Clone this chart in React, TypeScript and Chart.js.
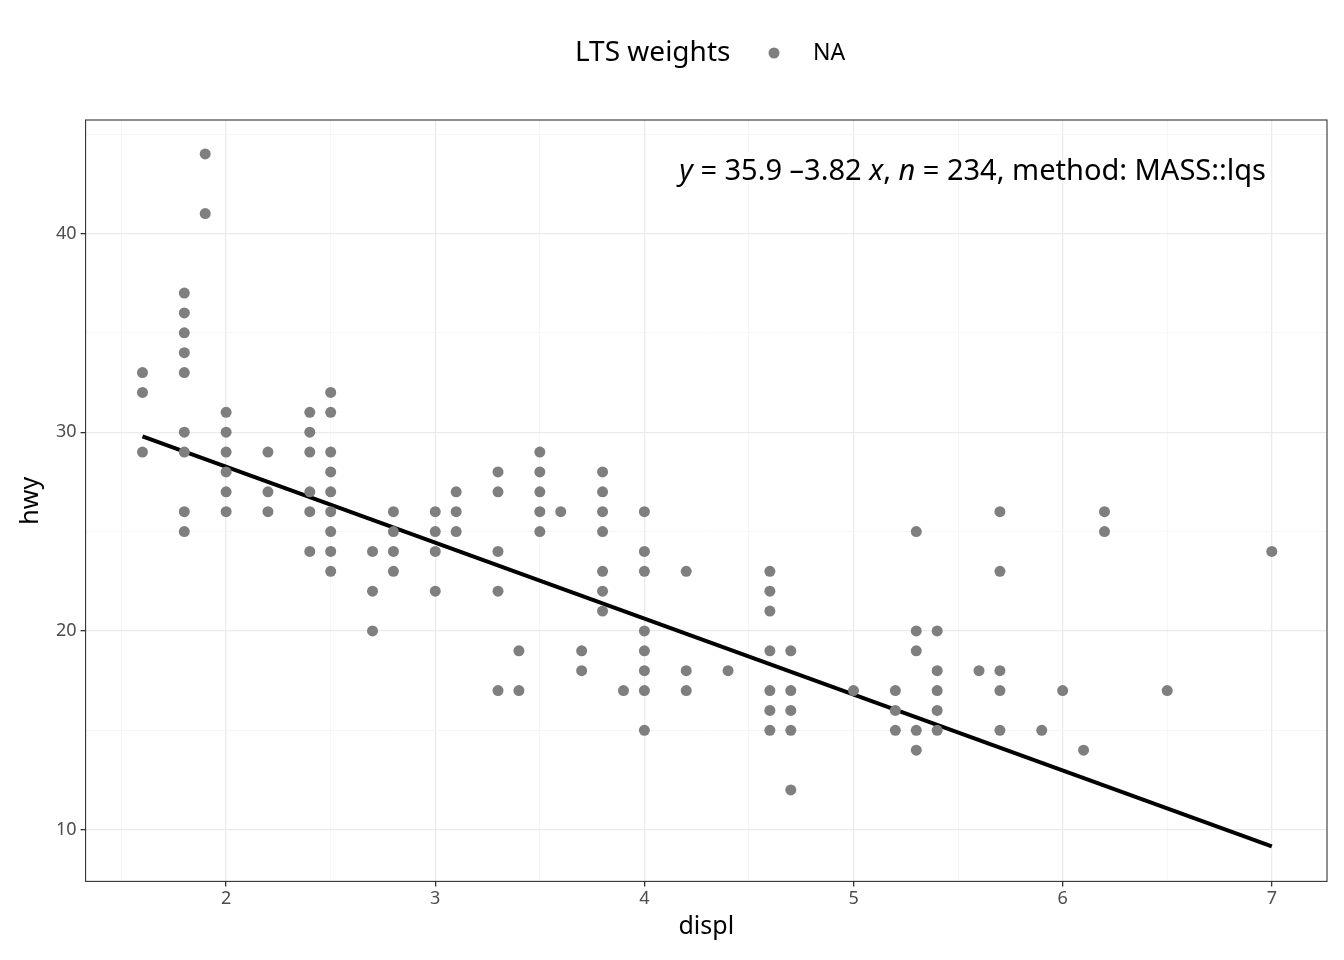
import { useEffect, useRef } from "react";
import { Chart, registerables } from "chart.js";
Chart.register(...registerables);

const displCols: number[] = [1.6,1.8,1.9,2.0,2.2,2.4,2.5,2.7,2.8,3.0,3.1,3.3,3.4,3.5,3.6,3.7,3.8,3.9,4.0,4.2,4.4,4.6,4.7,5.0,5.2,5.3,5.4,5.6,5.7,5.9,6.0,6.1,6.2,6.5,7.0];
const hwyCols: number[][] = [
  [33,32,29],[37,36,35,34,33,30,29,26,25],[44,41],[31,30,29,28,27,26],[29,27,26],
  [31,30,29,27,26,24],[32,31,29,28,27,26,25,24,23],[24,22,20],[26,25,24,23],[26,25,24,22],
  [27,26,25],[28,27,24,22,17],[19,17],[29,28,27,26,25],[26],[19,18],[28,27,26,25,23,22,21],
  [17],[26,24,23,20,19,18,17,15],[23,18,17],[18],[23,22,21,19,17,16,15],[19,17,16,15,12],
  [17],[17,16,15],[25,20,19,15,14],[20,18,17,16,15],[18],[26,23,18,17,15],[15],[17],[14],
  [26,25],[17],[24],
];
const intercept = 35.9;
const slope = -3.82;
const xTicks = [1.5,2,2.5,3,3.5,4,4.5,5,5.5,6,6.5,7];
const yTicks = [10,15,20,25,30,35,40,45];

export default function App() {
  const ref = useRef<HTMLCanvasElement>(null);
  useEffect(() => {
    document.body.style.margin = "0";
    const pts: { x: number; y: number }[] = [];
    displCols.forEach((x, i) => hwyCols[i].forEach((y) => pts.push({ x, y })));
    const line = [1.6, 7].map((x) => ({ x, y: intercept + slope * x }));
    const font = "'Noto Sans', sans-serif";
    const overlay = {
      id: "overlay",
      afterDraw(c: any) {
        const ctx = c.ctx;
        const a = c.chartArea;
        ctx.save();
        ctx.strokeStyle = "#333333";
        ctx.lineWidth = 1.1;
        ctx.strokeRect(a.left, a.top, a.right - a.left, a.bottom - a.top);
        ctx.fillStyle = "#000";
        ctx.textBaseline = "middle";
        ctx.font = `28px ${font}`;
        ctx.fillText("LTS weights", 575, 53);
        ctx.fillStyle = "#7f7f7f";
        ctx.beginPath(); ctx.arc(774, 53, 5.5, 0, Math.PI * 2); ctx.fill();
        ctx.fillStyle = "#000";
        ctx.font = `23px ${font}`;
        ctx.fillText("NA", 813, 53);
        const segs: [string, boolean][] = [["y", true], [" = 35.9 –3.82 ", false], ["x", true], [", ", false], ["n", true], [" = 234, method: MASS::lqs", false]];
        const f = (it: boolean) => `${it ? "italic " : ""}29px ${font}`;
        let w = 0;
        segs.forEach(([t, it]) => { ctx.font = f(it); w += ctx.measureText(t).width; });
        let x = 1266 - w;
        ctx.textBaseline = "alphabetic";
        segs.forEach(([t, it]) => { ctx.font = f(it); ctx.fillText(t, x, 180); x += ctx.measureText(t).width; });
        ctx.restore();
      },
    };
    const tickFont = { family: font, size: 18 };
    const chart = new Chart(ref.current!, {
      type: "scatter",
      data: {
        datasets: [
          { data: pts, backgroundColor: "#7f7f7f", borderWidth: 0, pointRadius: 5.5, pointHoverRadius: 5.5 } as any,
          { type: "line", data: line, borderColor: "#000", borderWidth: 4, pointRadius: 0, showLine: true, fill: false } as any,
        ],
      },
      options: {
        animation: false,
        responsive: false,
        layout: { padding: { top: 120, right: 17, bottom: 14, left: 12 } },
        plugins: { legend: { display: false }, tooltip: { enabled: false } },
        scales: {
          x: {
            type: "linear", min: 1.328, max: 7.264,
            afterBuildTicks: (s: any) => { s.ticks = xTicks.map((v) => ({ value: v })); },
            ticks: { font: tickFont, color: "#4d4d4d", autoSkip: false, maxRotation: 0, padding: 2, callback: (v: any) => (Number.isInteger(v) ? String(v) : "") },
            grid: {
              color: (c: any) => (Number.isInteger(c.tick?.value) ? "#ebebeb" : "#f4f4f4"),
              lineWidth: (c: any) => (Number.isInteger(c.tick?.value) ? 1.3 : 0.8),
              tickColor: (c: any) => (Number.isInteger(c.tick?.value) ? "#333" : "rgba(0,0,0,0)"),
              tickLength: 5,
            },
            border: { display: false },
            title: { display: true, text: "displ", font: { family: font, size: 25 }, color: "#000", padding: { top: 0 } },
          },
          y: {
            type: "linear", min: 7.4, max: 45.71,
            afterBuildTicks: (s: any) => { s.ticks = yTicks.map((v) => ({ value: v })); },
            ticks: { font: tickFont, color: "#4d4d4d", autoSkip: false, padding: 4, callback: (v: any) => (v % 10 === 0 ? String(v) : "") },
            grid: {
              color: (c: any) => (c.tick?.value % 10 === 0 ? "#ebebeb" : "#f4f4f4"),
              lineWidth: (c: any) => (c.tick?.value % 10 === 0 ? 1.3 : 0.8),
              tickColor: (c: any) => (c.tick?.value % 10 === 0 ? "#333" : "rgba(0,0,0,0)"),
              tickLength: 5,
            },
            border: { display: false },
            title: { display: true, text: "hwy", font: { family: font, size: 25 }, color: "#000", padding: { bottom: 6 } },
          },
        },
      },
      plugins: [overlay],
    });
    return () => chart.destroy();
  }, []);
  return <canvas ref={ref} width={1344} height={960} style={{ display: "block" }} />;
}
